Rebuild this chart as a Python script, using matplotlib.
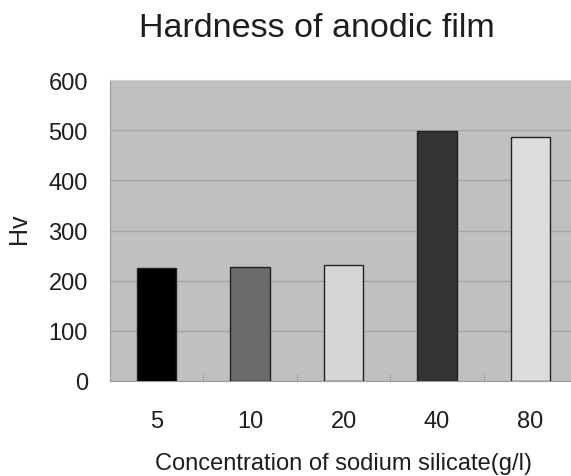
import matplotlib
matplotlib.use("Agg")
import matplotlib.pyplot as plt
import numpy as np

categories = ["5", "10", "20", "40", "80"]
hardness = [225, 228, 231, 498, 487]
bar_colors = ["#000000", "#6b6b6b", "#d6d6d6", "#333333", "#dcdcdc"]
yticks = [0, 100, 200, 300, 400, 500, 600]

plt.rcParams["font.family"] = ["Liberation Sans", "DejaVu Sans"]
W, H = 571, 477
txt = "#1e1e1e"
fig = plt.figure(figsize=(W/100, H/100), dpi=100)
left, right, top, bottom = 110, 577, 81, 382
ax = fig.add_axes([left/W, 1 - bottom/H, (right-left)/W, (bottom-top)/H])
ax.set_facecolor("#c0c0c0")
x = np.arange(len(categories))
ax.bar(x, hardness, width=0.42, color=bar_colors, edgecolor="#222222", linewidth=1.0, zorder=3)
ax.set_xlim(-0.5, len(categories) - 0.5)
ax.set_ylim(0, 600)
ax.set_yticks(yticks)
ax.set_yticklabels([str(t) for t in yticks], fontsize=17, color=txt)
ax.yaxis.grid(True, color="#a4a4a4", linewidth=1.0, zorder=1)
ax.set_xticks(x)
ax.set_xticklabels(categories, fontsize=17, color=txt)
ax.tick_params(axis="x", length=0, pad=21)
ax.tick_params(axis="y", length=0, pad=16)
ax.set_xticks(np.arange(0.5, len(categories) - 0.5, 1.0), minor=True)
ax.tick_params(axis="x", which="minor", direction="in", length=5, color="#999999")
ax.spines["right"].set_visible(False)
ax.spines["top"].set_color("#d4d4d4")
ax.spines["left"].set_color("#9a9a9a")
ax.spines["bottom"].set_color("#9a9a9a")

ax.set_ylabel("Hv", fontsize=18, color=txt)
ax.yaxis.set_label_coords(19/W, 1 - 229/H, transform=fig.transFigure)
ax.yaxis.label.set_verticalalignment("center")

ax.set_xlabel("Concentration of sodium silicate(g/l)", fontsize=17, color=txt)
ax.xaxis.set_label_coords(343.5/W, 1 - 470/H, transform=fig.transFigure)
ax.xaxis.label.set_verticalalignment("baseline")

fig.text(139/W, 1 - 37/H, "Hardness of anodic film", ha="left", va="baseline",
         fontsize=24.5, color=txt)
fig.savefig("out.png", dpi=100)
